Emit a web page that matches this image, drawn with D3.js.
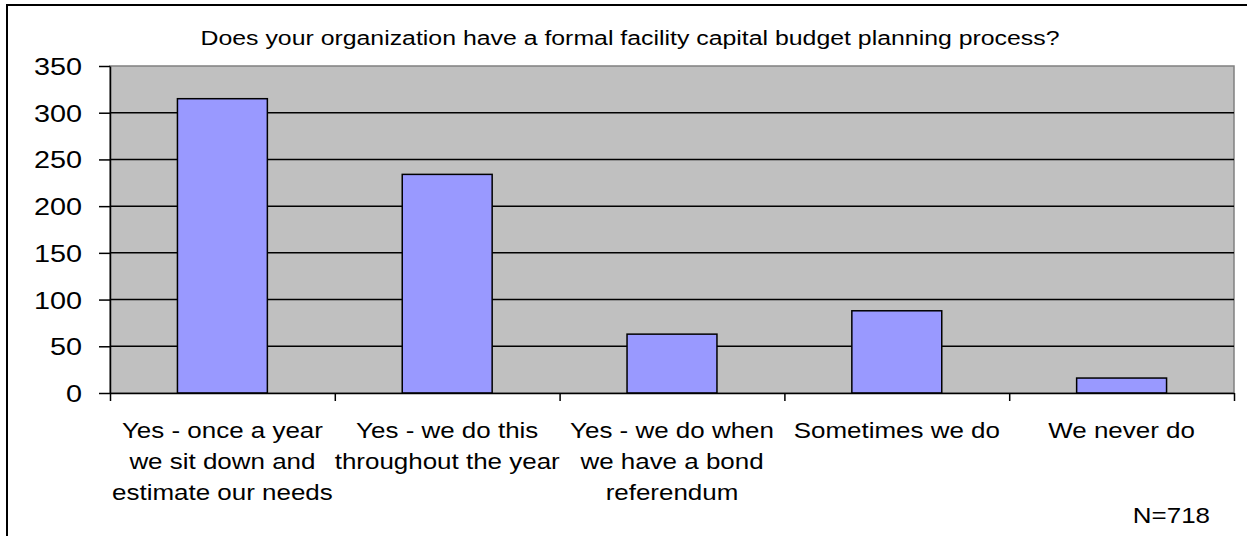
<!DOCTYPE html>
<html><head><meta charset="utf-8">
<script src="https://cdn.jsdelivr.net/npm/d3@7"></script>
<style>body{margin:0;background:#fff;overflow:hidden}</style></head>
<body>
<svg id="c" width="1247" height="536"></svg>
<script>
const categories = [
  ["Yes - once a year", "we sit down and", "estimate our needs"],
  ["Yes - we do this", "throughout the year"],
  ["Yes - we do when", "we have a bond", "referendum"],
  ["Sometimes we do"],
  ["We never do"]
];
const values = [315, 234, 63, 88, 16];
const yTicks = [0, 50, 100, 150, 200, 250, 300, 350];
const titleText = "Does your organization have a formal facility capital budget planning process?";
const noteText = "N=718";

const svg = d3.select("#c");
const FONT = "'Liberation Sans', Arial, sans-serif";
const SX = 1.18;

const L = 110, R = 1234, T = 66, B = 393;
const x = d3.scaleBand().domain(d3.range(categories.length)).range([L, R])
  .paddingInner(0.6).paddingOuter(0.3);
const y = d3.scaleLinear().domain([0, 350]).range([B, T]);

// outer border
svg.append("rect").attr("x", 7).attr("y", 5).attr("width", 1250).attr("height", 540)
  .attr("fill", "#fff").attr("stroke", "#000").attr("stroke-width", 2);

// plot area
svg.append("rect").attr("x", L).attr("y", T).attr("width", R - L).attr("height", B - T)
  .attr("fill", "#c0c0c0").attr("stroke", "#808080").attr("stroke-width", 1.5);

// gridlines
svg.append("g").selectAll("line").data(yTicks.filter(d => d > 0 && d < 350)).join("line")
  .attr("x1", L).attr("x2", R).attr("y1", d => y(d)).attr("y2", d => y(d))
  .attr("stroke", "#000").attr("stroke-width", 1.5);

// bars
svg.append("g").selectAll("rect").data(values).join("rect")
  .attr("x", (d, i) => x(i)).attr("width", x.bandwidth())
  .attr("y", d => y(d)).attr("height", d => B - y(d))
  .attr("fill", "#9999ff").attr("stroke", "#000").attr("stroke-width", 1.5);

// y axis
const yAxis = d3.axisLeft(y).tickValues(yTicks).tickSize(11).tickSizeOuter(0).tickPadding(0);
const gy = svg.append("g").attr("transform", `translate(${L},0)`).call(yAxis);
gy.select(".domain").attr("stroke", "#000").attr("stroke-width", 1.5);
gy.selectAll(".tick line").attr("stroke", "#000").attr("stroke-width", 1.5);
gy.selectAll(".tick text").remove();
gy.selectAll(".tick").append("text")
  .attr("transform", `translate(-28,8.5) scale(1.2,1)`)
  .attr("text-anchor", "end").attr("fill", "#000")
  .style("font-family", FONT).style("font-size", "24px")
  .text(d => d);

// x axis
const xb = d3.scaleLinear().domain([0, categories.length]).range([L, R]);
const xAxis = d3.axisBottom(xb).tickValues(d3.range(categories.length + 1)).tickSize(8).tickSizeOuter(0).tickFormat("");
const gx = svg.append("g").attr("transform", `translate(0,${B})`).call(xAxis);
gx.select(".domain").attr("stroke", "#000").attr("stroke-width", 1.5);
gx.selectAll(".tick line").attr("stroke", "#000").attr("stroke-width", 1.5);

// category labels
const lab = svg.append("g").selectAll("g").data(categories).join("g")
  .attr("transform", (d, i) => `translate(${x(i) + x.bandwidth() / 2},0)`);
lab.selectAll("text").data(d => d).join("text")
  .attr("transform", (d, j) => `translate(0,${438 + j * 31}) scale(${SX},1)`)
  .attr("text-anchor", "middle").attr("fill", "#000")
  .style("font-family", FONT).style("font-size", "22px")
  .text(d => d);

// title
svg.append("text").attr("x", 630).attr("y", 45).attr("text-anchor", "middle")
  .attr("textLength", 859).attr("lengthAdjust", "spacingAndGlyphs")
  .style("font-family", FONT).style("font-size", "20px").attr("fill", "#000")
  .text(titleText);

// note
svg.append("text").attr("transform", `translate(1210,523) scale(${SX},1)`).attr("text-anchor", "end")
  .style("font-family", FONT).style("font-size", "22px").attr("fill", "#000")
  .text(noteText);
</script>
</body></html>
